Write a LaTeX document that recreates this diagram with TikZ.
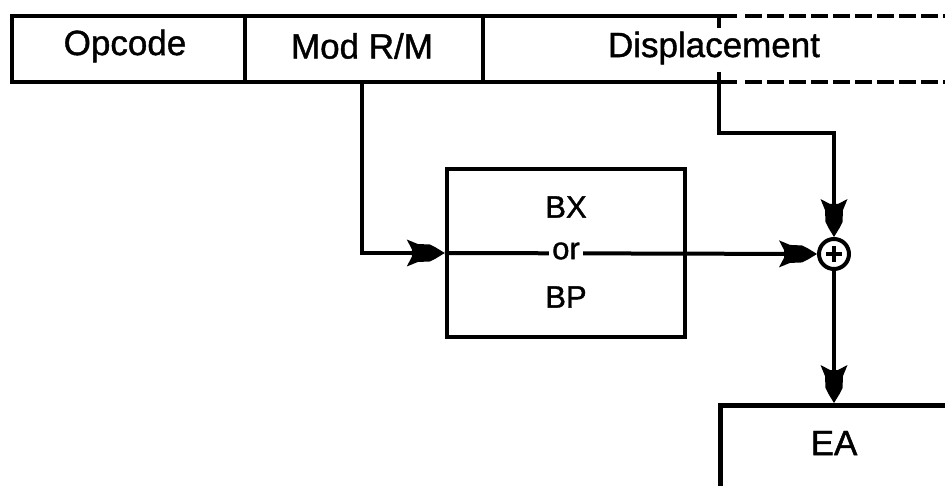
\documentclass[tikz,border=0pt]{standalone}
\usepackage{fontspec}
\setmainfont{Liberation Sans}
\newfontfamily\heavyfont{Liberation Sans}[FakeBold=1.2]
\usetikzlibrary{arrows.meta,calc}
\pgfdeclarearrow{
  name = Barbed,
  setup code = {
    \pgfarrowssettipend{0pt}
    \pgfarrowssetbackend{-38pt}
    \pgfarrowssetlineend{-28pt}
    \pgfarrowshullpoint{0pt}{0pt}
    \pgfarrowshullpoint{-38pt}{13.5pt}
    \pgfarrowshullpoint{-38pt}{-13.5pt}
  },
  drawing code = {
    \pgfpathmoveto{\pgfqpoint{0pt}{0pt}}
    \pgfpathlineto{\pgfqpoint{-9pt}{5.5pt}}
    \pgfpathlineto{\pgfqpoint{-15pt}{8.5pt}}
    \pgfpathlineto{\pgfqpoint{-27pt}{9pt}}
    \pgfpathlineto{\pgfqpoint{-38pt}{13.5pt}}
    \pgfpathlineto{\pgfqpoint{-33pt}{4pt}}
    \pgfpathlineto{\pgfqpoint{-33pt}{-4pt}}
    \pgfpathlineto{\pgfqpoint{-38pt}{-13.5pt}}
    \pgfpathlineto{\pgfqpoint{-27pt}{-9pt}}
    \pgfpathlineto{\pgfqpoint{-15pt}{-8.5pt}}
    \pgfpathlineto{\pgfqpoint{-9pt}{-5.5pt}}
    \pgfpathclose
    \pgfusepathqfill
  },
}
\tikzset{
  heavy/.style={line width=4.5pt},
  conn/.style={line width=4pt},
  arr/.style={conn,-{Barbed}},
  fieldtxt/.style={font=\heavyfont\fontsize{35}{35}\selectfont, inner sep=0pt},
  boxtxt/.style={font=\heavyfont\fontsize{31}{31}\selectfont, inner sep=0pt},
  eatxt/.style={font=\heavyfont\fontsize{35}{35}\selectfont, inner sep=0pt},
}
\begin{document}
\begin{tikzpicture}[x=1pt,y=-1pt]
\clip (0,0) rectangle (945,486);
\useasboundingbox (0,0) rectangle (945,486);
% instruction bar
\draw[heavy] (737,16) -- (12,16) -- (12,82) -- (737,82);
\draw[heavy, dash pattern=on 17pt off 5pt] (745,16) -- (960,16);
\draw[heavy, dash pattern=on 17pt off 5pt] (745,82) -- (960,82);
\draw[heavy] (245,16) -- (245,82);
\draw[heavy] (483,16) -- (483,82);
\draw[conn] (719,16) -- (719,28);
\draw[conn] (719,72) -- (719,82);
\node[fieldtxt] (opc) at (125,46) {Opcode};
\node[fieldtxt] (mod) at (362,46) {Mod R/M};
\node[fieldtxt] (disp) at (714,48) {Displacement};
\coordinate (modout) at (362,82);
\coordinate (dispout) at (719,82);
\coordinate (dispbend) at (719,133);
% BX or BP box
\node[heavy, draw, minimum width=238pt, minimum height=168pt, inner sep=0pt] (bx) at (566,253) {};
\node[boxtxt] (bxt) at (566,207) {BX};
\node[circle, draw, line width=4pt, minimum size=30pt, inner sep=0pt] (plus) at (834,254) {};
\draw[line width=4.5pt] ($(plus.center)+(-8,0)$) -- ($(plus.center)+(8,0)$);
\draw[line width=4.5pt] ($(plus.center)+(0,-8)$) -- ($(plus.center)+(0,8)$);
% EA box
\node[heavy, draw, anchor=north west, minimum width=260pt, minimum height=120pt, inner sep=0pt] (ea) at (718,403) {};
\node[eatxt] (eat) at (834,443) {EA};
% connectors
\draw[arr] (modout) |- (bx.west);
\draw[arr] (bx.west) -- (plus.west);
\draw[arr] (dispout) -- (dispbend) -| (plus.north);
\draw[arr] (plus.south) -- (plus |- ea.north);
\node[boxtxt, fill=white, inner xsep=3pt, inner ysep=2pt] (ort) at (566,251) {or};
\node[boxtxt] (bpt) at (566,297) {BP};
\end{tikzpicture}
\end{document}
